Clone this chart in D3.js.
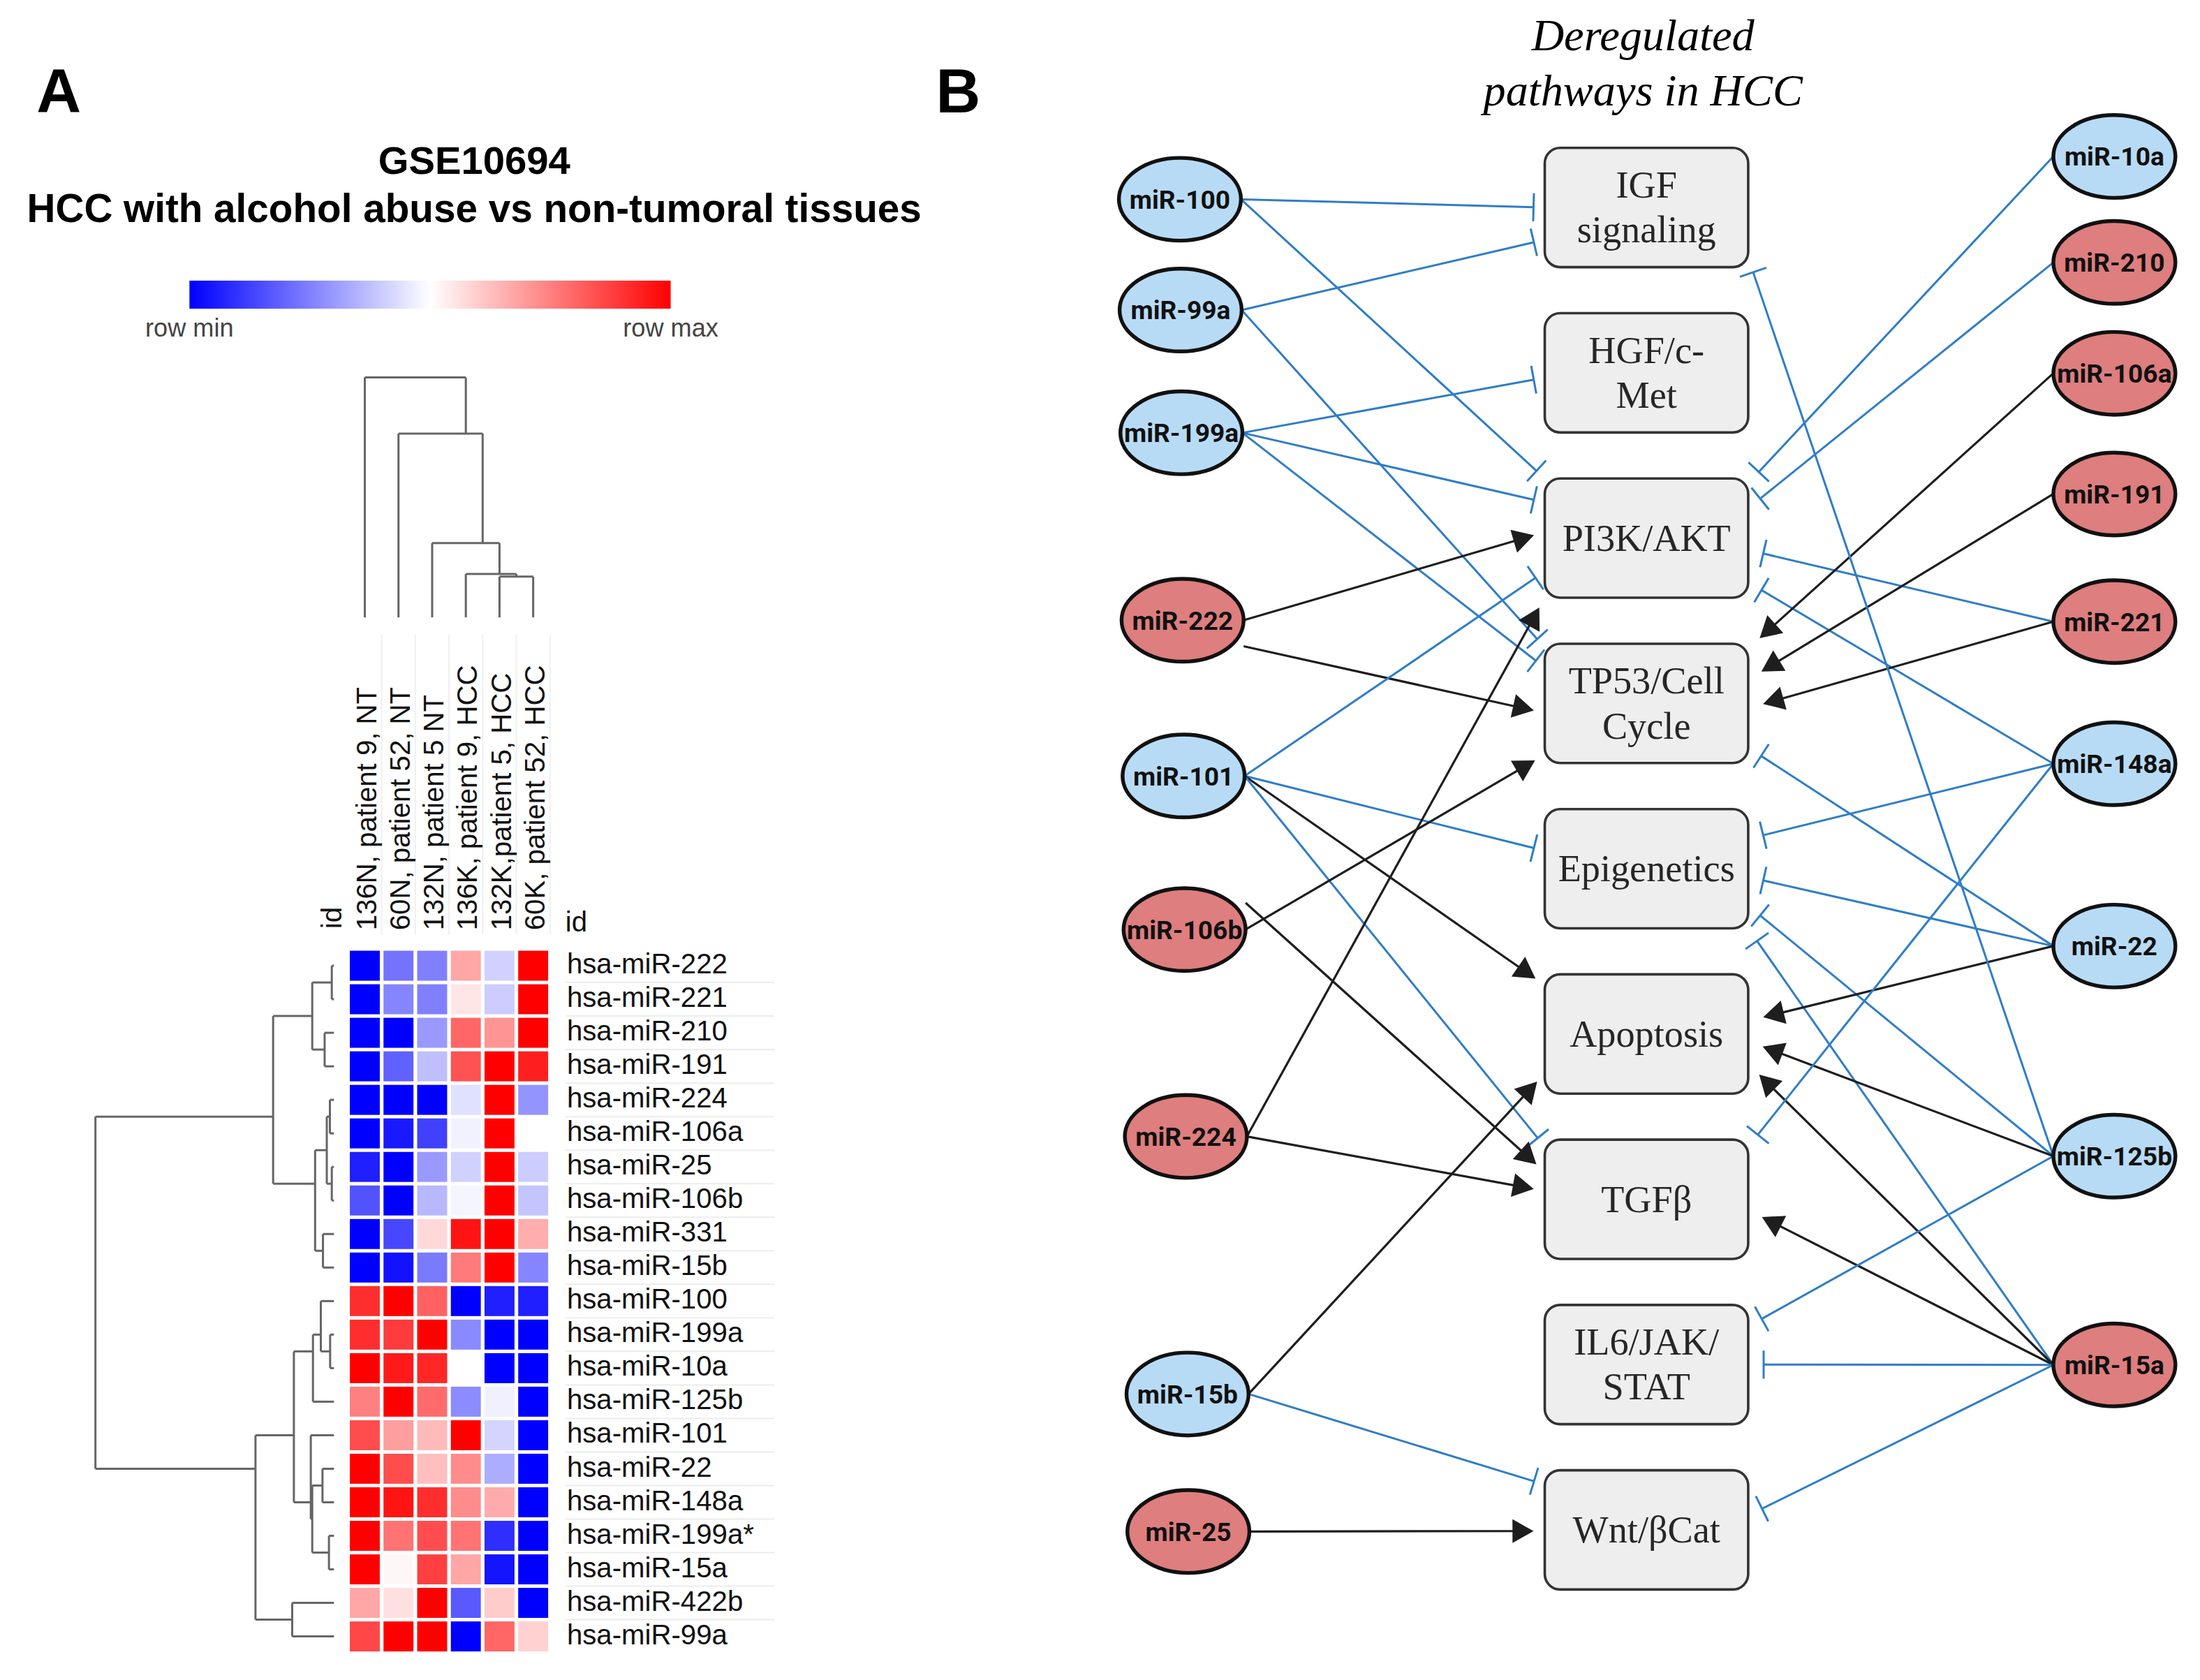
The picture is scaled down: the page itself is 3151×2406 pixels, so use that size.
<!DOCTYPE html>
<html>
<head>
<meta charset="utf-8">
<script src="https://cdn.jsdelivr.net/npm/d3@7"></script>
<style>
  body { margin: 0; background: #fff; }
  svg { display: block; }
</style>
</head>
<body>
<svg id="fig"></svg>
<script>
// ---------- panel A : heatmap data ----------
var rowLabels = ["hsa-miR-222", "hsa-miR-221", "hsa-miR-210", "hsa-miR-191", "hsa-miR-224", "hsa-miR-106a",
    "hsa-miR-25", "hsa-miR-106b", "hsa-miR-331", "hsa-miR-15b", "hsa-miR-100", "hsa-miR-199a", "hsa-miR-10a",
    "hsa-miR-125b", "hsa-miR-101", "hsa-miR-22", "hsa-miR-148a", "hsa-miR-199a*", "hsa-miR-15a", "hsa-miR-422b",
    "hsa-miR-99a"];
var colLabels = ["136N, patient 9, NT", "60N, patient 52, NT", "132N, patient 5 NT",
    "136K, patient 9, HCC", "132K,patient 5, HCC", "60K, patient 52, HCC"];

// row-scaled expression, -1 = row min (blue), 1 = row max (red)
var expr = [
    [-1, -0.55, -0.5, 0.35, -0.18, 1],
    [-1, -0.48, -0.5, 0.1, -0.2, 1],
    [-1, -1, -0.4, 0.6, 0.42, 1],
    [-1, -0.62, -0.25, 0.68, 1, 0.88],
    [-1, -1, -1, -0.12, 1, -0.42],
    [-1, -0.9, -0.75, -0.05, 1, 0],
    [-0.88, -1, -0.4, -0.18, 1, -0.2],
    [-0.68, -1, -0.28, -0.04, 1, -0.23],
    [-1, -0.72, 0.15, 0.92, 1, 0.32],
    [-1, -0.93, -0.52, 0.52, 1, -0.48],
    [0.82, 1, 0.62, -1, -0.88, -0.88],
    [0.82, 0.77, 1, -0.46, -1, -1],
    [1, 0.9, 0.85, 0, -1, -1],
    [0.5, 1, 0.58, -0.45, -0.06, -1],
    [0.7, 0.38, 0.27, 1, -0.17, -1],
    [1, 0.7, 0.25, 0.45, -0.32, -1],
    [1, 0.92, 0.82, 0.45, 0.33, -1],
    [1, 0.55, 0.7, 0.55, -0.82, -1],
    [1, 0.03, 0.75, 0.35, -0.92, -1],
    [0.35, 0.12, 1, -0.65, 0.2, -1],
    [0.72, 1, 1, -1, 0.6, 0.18]
];

// dendrograms: [left, right, height], leaves are row / column indices
var rowTree = [
    [[[0, 1, 0.009], [2, 3, 0.039], 0.091],
     [[[4, 5, 0.017], [6, 7, 0.009], 0.03], [8, 9, 0.046], 0.079], 0.255],
    [[[[10, [11, 12, 0.016], 0.055], 13, 0.088],
      [14, [[15, 16, 0.048], [17, 18, 0.021], 0.091], 0.097], 0.168],
     [19, 20, 0.175], 0.329],
    1];
var colTree = [0, [1, [2, [3, [4, 5, 0.17], 0.181], 0.31], 0.766], 1];

// ---------- panel B : network data ----------
var pathways = ["IGF signaling", "HGF/c-Met", "PI3K/AKT", "TP53/Cell Cycle", "Epigenetics",
    "Apoptosis", "TGFβ", "IL6/JAK/STAT", "Wnt/βCat"];
var pathwayLines = [["IGF", "signaling"], ["HGF/c-", "Met"], ["PI3K/AKT"], ["TP53/Cell", "Cycle"],
    ["Epigenetics"], ["Apoptosis"], ["TGFβ"], ["IL6/JAK/", "STAT"], ["Wnt/βCat"]];

var leftMirs = ["miR-100", "miR-99a", "miR-199a", "miR-222", "miR-101", "miR-106b", "miR-224", "miR-15b", "miR-25"];
var leftReg = ["down", "down", "down", "up", "down", "up", "up", "down", "up"];
var rightMirs = ["miR-10a", "miR-210", "miR-106a", "miR-191", "miR-221", "miR-148a", "miR-22", "miR-125b", "miR-15a"];
var rightReg = ["down", "up", "up", "up", "up", "down", "down", "down", "up"];

// [miRNA, pathway, kind]  inhib = blue blunt end, act = black arrow
var edges = [
    ["miR-100", "IGF signaling", "inhib"], ["miR-100", "PI3K/AKT", "inhib"],
    ["miR-99a", "IGF signaling", "inhib"], ["miR-99a", "TP53/Cell Cycle", "inhib"],
    ["miR-199a", "HGF/c-Met", "inhib"], ["miR-199a", "PI3K/AKT", "inhib"], ["miR-199a", "TP53/Cell Cycle", "inhib"],
    ["miR-222", "PI3K/AKT", "act"], ["miR-222", "TP53/Cell Cycle", "act"],
    ["miR-101", "PI3K/AKT", "inhib"], ["miR-101", "Epigenetics", "inhib"], ["miR-101", "Apoptosis", "act"], ["miR-101", "TGFβ", "inhib"],
    ["miR-106b", "TP53/Cell Cycle", "act"], ["miR-106b", "TGFβ", "act"],
    ["miR-224", "PI3K/AKT", "act"], ["miR-224", "TGFβ", "act"],
    ["miR-15b", "Apoptosis", "act"], ["miR-15b", "Wnt/βCat", "inhib"],
    ["miR-25", "Wnt/βCat", "act"],
    ["miR-10a", "PI3K/AKT", "inhib"], ["miR-210", "PI3K/AKT", "inhib"], ["miR-221", "PI3K/AKT", "inhib"], ["miR-148a", "PI3K/AKT", "inhib"],
    ["miR-106a", "TP53/Cell Cycle", "act"], ["miR-191", "TP53/Cell Cycle", "act"], ["miR-221", "TP53/Cell Cycle", "act"],
    ["miR-22", "TP53/Cell Cycle", "inhib"],
    ["miR-148a", "Epigenetics", "inhib"], ["miR-22", "Epigenetics", "inhib"], ["miR-125b", "Epigenetics", "inhib"], ["miR-15a", "Epigenetics", "inhib"],
    ["miR-22", "Apoptosis", "act"], ["miR-125b", "Apoptosis", "act"], ["miR-15a", "Apoptosis", "act"],
    ["miR-148a", "TGFβ", "inhib"], ["miR-15a", "TGFβ", "act"],
    ["miR-125b", "IL6/JAK/STAT", "inhib"], ["miR-15a", "IL6/JAK/STAT", "inhib"], ["miR-15a", "Wnt/βCat", "inhib"],
    ["miR-125b", "IGF signaling", "inhib"]
];

// ---------- layout (not data) ----------
// vertical slot of each miRNA, in units of pathway rows
var leftSlot = [-0.05, 0.62, 1.363, 2.497, 3.439, 4.368, 5.62, 7.178, 8.01];
var rightSlot = [-0.309, 0.332, 1.003, 1.733, 2.505, 3.365, 4.468, 5.739, 7.002];
// where on the box side each edge lands (0 = top, 1 = bottom), same order as edges
var edgePort = [0.5, 0.0, 0.77, 0.03, 0.54, 0.2, 0.2, 0.45, 0.58, 0.78, 0.35, 0.09, 0.06,
    0.93, 0.27, 1.0, 0.43, 0.83, 0.12, 0.51,
    0.04, 0.25, 0.6, 0.87, 0.04, 0.3, 0.54, 0.87, 0.25, 0.57, 0.81, 1.0, 0.39, 0.56, 0.75,
    0.06, 0.59, 0.18, 0.5, 0.38, 0.92];
var startShift = { "miR-222>TP53/Cell Cycle": 18.5, "miR-106b>TGFβ": -19 };

var W = 1568, H = 1197.3;
var svg = d3.select("#fig")
    .attr("width", 3151)
    .attr("height", 2406)
    .attr("viewBox", "0 0 " + W + " " + H);

var sans = "'Liberation Sans', Arial, Helvetica, sans-serif";
var serif = "'Liberation Serif', 'Times New Roman', serif";

svg.append("rect").attr("width", W).attr("height", H).attr("fill", "#fff");

// panel letters
svg.append("text").attr("x", 26).attr("y", 80).text("A")
    .style("font-family", sans).style("font-weight", "bold").style("font-size", "44px");
svg.append("text").attr("x", 667).attr("y", 80).text("B")
    .style("font-family", sans).style("font-weight", "bold").style("font-size", "44px");

// ================= panel A =================
var gA = svg.append("g");

gA.append("text").attr("x", 338).attr("y", 124).attr("text-anchor", "middle").text("GSE10694")
    .style("font-family", sans).style("font-weight", "bold").style("font-size", "28px");
gA.append("text").attr("x", 338).attr("y", 158).attr("text-anchor", "middle")
    .text("HCC with alcohol abuse vs non-tumoral tissues")
    .style("font-family", sans).style("font-weight", "bold").style("font-size", "28.2px");

var heatColor = d3.scaleLinear().domain([-1, 0, 1]).range(["#0000ff", "#ffffff", "#ff0000"]);

// colour bar
var grad = svg.append("defs").append("linearGradient").attr("id", "cbar");
d3.range(-1, 1.01, 0.25).forEach(function (v) {
    grad.append("stop").attr("offset", ((v + 1) / 2 * 100) + "%").attr("stop-color", heatColor(v));
});
gA.append("rect").attr("x", 135).attr("y", 200).attr("width", 343).attr("height", 20).attr("fill", "url(#cbar)");
gA.append("text").attr("x", 135).attr("y", 240).attr("text-anchor", "middle").text("row min")
    .style("font-family", sans).style("font-size", "18px").style("fill", "#444");
gA.append("text").attr("x", 478).attr("y", 240).attr("text-anchor", "middle").text("row max")
    .style("font-family", sans).style("font-size", "18px").style("fill", "#444");

var x = d3.scaleBand().domain(d3.range(colLabels.length)).range([248, 392])
    .paddingInner(0.11).paddingOuter(0.055);
var y = d3.scaleBand().domain(d3.range(rowLabels.length)).range([676.3, 1178.2])
    .paddingInner(0.105).paddingOuter(0.0525);

// faint grid behind the labels
gA.selectAll("line.rowgrid").data(d3.range(1, rowLabels.length)).join("line")
    .attr("x1", 403).attr("x2", 552)
    .attr("y1", d => y(d) - y.step() * 0.0525).attr("y2", d => y(d) - y.step() * 0.0525)
    .attr("stroke", "#ececec").attr("stroke-width", 1);
gA.selectAll("line.colgrid").data(d3.range(colLabels.length)).join("line")
    .attr("x1", d => x(d) + x.bandwidth() + 1.3).attr("x2", d => x(d) + x.bandwidth() + 1.3)
    .attr("y1", 452).attr("y2", 666)
    .attr("stroke", "#f0f0f0").attr("stroke-width", 1);

var cells = [];
expr.forEach(function (row, i) {
    row.forEach(function (v, j) { cells.push({ i: i, j: j, v: v }); });
});
gA.selectAll("rect.cell").data(cells).join("rect")
    .attr("class", "cell")
    .attr("x", d => x(d.j))
    .attr("y", d => y(d.i))
    .attr("width", x.bandwidth())
    .attr("height", y.bandwidth())
    .attr("fill", d => heatColor(d.v));

gA.selectAll("text.rowlab").data(rowLabels).join("text")
    .attr("class", "rowlab")
    .attr("x", 404)
    .attr("y", (d, i) => y(i) + y.bandwidth() / 2 + 5.5)
    .text(d => d)
    .style("font-family", sans).style("font-size", "20px").style("fill", "#111");

gA.selectAll("text.collab").data(colLabels).join("text")
    .attr("class", "collab")
    .attr("transform", (d, i) => "translate(" + (x(i) + x.bandwidth() / 2 + 8) + ",663) rotate(-90)")
    .text(d => d)
    .style("font-family", sans).style("font-size", "20px").style("fill", "#111");

gA.append("text").attr("transform", "translate(243.5,662) rotate(-90)").text("id")
    .style("font-family", sans).style("font-size", "20px").style("fill", "#111");
gA.append("text").attr("x", 403).attr("y", 664).text("id")
    .style("font-family", sans).style("font-size", "20px").style("fill", "#111");

// dendrograms, node position = mean of its leaves
function layoutTree(node, leafPos) {
    if (typeof node === "number") return { pos: leafPos(node), h: 0, leaves: [node], kids: [] };
    var a = layoutTree(node[0], leafPos), b = layoutTree(node[1], leafPos);
    var leaves = a.leaves.concat(b.leaves);
    return { pos: d3.mean(leaves, leafPos), h: node[2], leaves: leaves, kids: [a, b] };
}
function treeSegments(n, out) {
    if (!n.kids.length) return out;
    out.push({ p1: n.kids[0].pos, p2: n.kids[1].pos, h1: n.h, h2: n.h });
    n.kids.forEach(function (k) {
        out.push({ p1: k.pos, p2: k.pos, h1: n.h, h2: k.h });
        treeSegments(k, out);
    });
    return out;
}

var rowH = d3.scaleLinear().domain([0, 1]).range([238, 68]);
var rowSegs = treeSegments(layoutTree(rowTree, i => y(i) + y.bandwidth() / 2), []);
gA.selectAll("line.rden").data(rowSegs).join("line")
    .attr("x1", d => rowH(d.h1)).attr("x2", d => rowH(d.h2))
    .attr("y1", d => d.p1).attr("y2", d => d.p2)
    .attr("stroke", "#666").attr("stroke-width", 1.5);

var colH = d3.scaleLinear().domain([0, 1]).range([440, 269]);
var colSegs = treeSegments(layoutTree(colTree, j => x(j) + x.bandwidth() / 2), []);
gA.selectAll("line.cden").data(colSegs).join("line")
    .attr("x1", d => d.p1).attr("x2", d => d.p2)
    .attr("y1", d => colH(d.h1)).attr("y2", d => colH(d.h2))
    .attr("stroke", "#666").attr("stroke-width", 1.5);

// ================= panel B =================
var gB = svg.append("g");

gB.append("text").attr("x", 1171).attr("y", 36).attr("text-anchor", "middle").text("Deregulated")
    .style("font-family", serif).style("font-style", "italic").style("font-size", "32px");
gB.append("text").attr("x", 1171).attr("y", 75).attr("text-anchor", "middle").text("pathways in HCC")
    .style("font-family", serif).style("font-style", "italic").style("font-size", "32px");

var slotY = d3.scaleLinear().domain([0, 8]).range([147.9, 1090.3]);
var leftX = d3.scaleLinear().domain([0, 8]).range([841, 847]);
var boxX = 1101, boxW = 145, boxH = 85;
var rx = 43.5, ry = 29.5;
var blue = "#2f7dc7", dark = "#1e1e1e";

var nodes = {};
leftMirs.forEach(function (m, i) {
    nodes[m] = { name: m, reg: leftReg[i], side: "left", cx: leftX(leftSlot[i]), cy: slotY(leftSlot[i]) };
});
rightMirs.forEach(function (m, i) {
    nodes[m] = { name: m, reg: rightReg[i], side: "right", cx: 1507, cy: slotY(rightSlot[i]) };
});

var edgeG = gB.append("g");
edges.forEach(function (e, k) {
    var n = nodes[e[0]], p = pathways.indexOf(e[1]);
    var sx = n.side === "left" ? n.cx + rx : n.cx - rx;
    var sy = n.cy + (startShift[e[0] + ">" + e[1]] || 0);
    var ax = n.side === "left" ? boxX : boxX + boxW;
    var ay = slotY(p) - boxH / 2 + edgePort[k] * boxH;
    var dx = ax - sx, dy = ay - sy, len = Math.sqrt(dx * dx + dy * dy);
    var ux = dx / len, uy = dy / len, nx = -uy, ny = ux;
    var gap = n.side === "left" ? 8 : 11;
    var ex = ax - ux * gap, ey = ay - uy * gap;
    var col = e[2] === "act" ? dark : blue;

    if (e[2] === "act") {
        var L = 15, hw = 8.5;
        edgeG.append("line")
            .attr("x1", sx).attr("y1", sy).attr("x2", ex - ux * (L - 1)).attr("y2", ey - uy * (L - 1))
            .attr("stroke", col).attr("stroke-width", 1.6);
        edgeG.append("path")
            .attr("d", d3.line()([[ex, ey],
                [ex - ux * L + nx * hw, ey - uy * L + ny * hw],
                [ex - ux * L - nx * hw, ey - uy * L - ny * hw]]) + "Z")
            .attr("fill", col);
    } else {
        edgeG.append("line")
            .attr("x1", sx).attr("y1", sy).attr("x2", ex).attr("y2", ey)
            .attr("stroke", col).attr("stroke-width", 1.5);
        edgeG.append("line")
            .attr("x1", ex + nx * 10).attr("y1", ey + ny * 10)
            .attr("x2", ex - nx * 10).attr("y2", ey - ny * 10)
            .attr("stroke", col).attr("stroke-width", 1.5);
    }
});

// pathway boxes
var boxes = gB.selectAll("g.box").data(pathways).join("g")
    .attr("class", "box")
    .attr("transform", (d, i) => "translate(" + boxX + "," + (slotY(i) - boxH / 2) + ")");
boxes.append("rect")
    .attr("width", boxW).attr("height", boxH).attr("rx", 11).attr("ry", 11)
    .attr("fill", "#eeeeee").attr("stroke", "#333").attr("stroke-width", 1.8);
boxes.each(function (d, i) {
    var lines = pathwayLines[i];
    var base = lines.length === 1 ? [boxH / 2 + 9] : [boxH / 2 - 7, boxH / 2 + 25];
    var t = d3.select(this);
    lines.forEach(function (s, j) {
        t.append("text").attr("x", boxW / 2).attr("y", base[j]).attr("text-anchor", "middle").text(s)
            .style("font-family", serif).style("font-size", "27px").style("fill", "#262626");
    });
});

// miRNA ellipses
var nodeG = gB.selectAll("g.mir").data(Object.values(nodes)).join("g")
    .attr("class", "mir")
    .attr("transform", d => "translate(" + d.cx + "," + d.cy + ")");
nodeG.append("ellipse")
    .attr("rx", rx).attr("ry", ry)
    .attr("fill", d => d.reg === "up" ? "#de7e7e" : "#b8dbf5")
    .attr("stroke", "#111").attr("stroke-width", 2.7);
nodeG.append("text")
    .attr("text-anchor", "middle").attr("dy", "0.36em")
    .text(d => d.name)
    .style("font-family", "Roboto, 'Liberation Sans', Arial, sans-serif")
    .style("font-weight", "bold").style("font-size", "18.5px").style("fill", "#111");
</script>
</body>
</html>
